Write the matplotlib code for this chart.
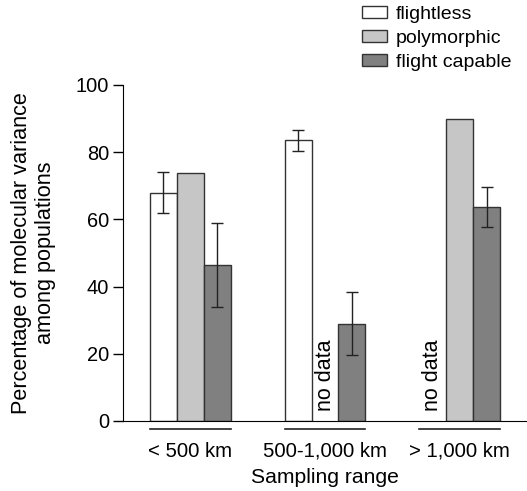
import numpy as np
import matplotlib.pyplot as plt
from matplotlib.patches import Patch

plt.rcParams['font.family'] = ['Liberation Sans', 'DejaVu Sans']
plt.rcParams['font.size'] = 14

# Datos
grupos = ["< 500 km", "500-1,000 km", "> 1,000 km"]
series = ["flightless", "polymorphic", "flight capable"]
colores = ["#ffffff", "#c6c6c6", "#808080"]

# None = sin datos
valores = {
    "flightless": [68, 83.5, None],
    "polymorphic": [73.7, None, 89.8],
    "flight capable": [46.3, 29, 63.7],
}
errores = {
    "flightless": [6, 3, None],
    "polymorphic": [None, None, None],
    "flight capable": [12.5, 9.5, 6],
}

centros = np.array([0, 5, 10])
desplaz = [-1, 0, 1]

fig = plt.figure(figsize=(5.27, 4.91), dpi=100)
ax = fig.add_axes([0.2334, 0.1426, 0.7666, 0.6843])

for i, s in enumerate(series):
    for j in range(len(grupos)):
        x = centros[j] + desplaz[i]
        v = valores[s][j]
        if v is None:
            ax.text(x, 3, "no data", rotation=90, ha="center", va="bottom",
                    fontsize=15.5)
            continue
        ax.bar(x, v, width=1, color=colores[i], edgecolor="#333333", linewidth=1)
        e = errores[s][j]
        if e is not None:
            ax.errorbar(x, v, yerr=e, color="#222222", capsize=4, elinewidth=1,
                        capthick=1)

# lineas bajo cada grupo
for c in centros:
    ax.plot([c - 1.5, c + 1.5], [-2.4, -2.4], color="#222222", lw=1.2, clip_on=False)

ax.set_xlim(-2.5, 12.5)
ax.set_ylim(0, 100)
ax.set_yticks([0, 20, 40, 60, 80, 100])
ax.set_xticks(centros)
ax.set_xticklabels(grupos, fontsize=14.7)
ax.tick_params(axis="x", length=0, pad=15)
ax.tick_params(axis="y", length=7, width=1, pad=3, labelsize=14.4)
ax.spines["top"].set_visible(False)
ax.spines["right"].set_visible(False)
ax.set_xlabel("Sampling range", labelpad=5, fontsize=15.2)
ax.set_ylabel("Percentage of molecular variance\namong populations", labelpad=14,
              fontsize=15.6)

handles = [Patch(facecolor=c, edgecolor="#333333", linewidth=1) for c in colores]
fig.legend(handles, series, loc="upper left", bbox_to_anchor=(0.664, 1.012),
           frameon=False, borderpad=0.1, handlelength=1.3, handleheight=0.6,
           handletextpad=0.45, labelspacing=0.36, fontsize=14)

plt.savefig("out.png", dpi=100)
